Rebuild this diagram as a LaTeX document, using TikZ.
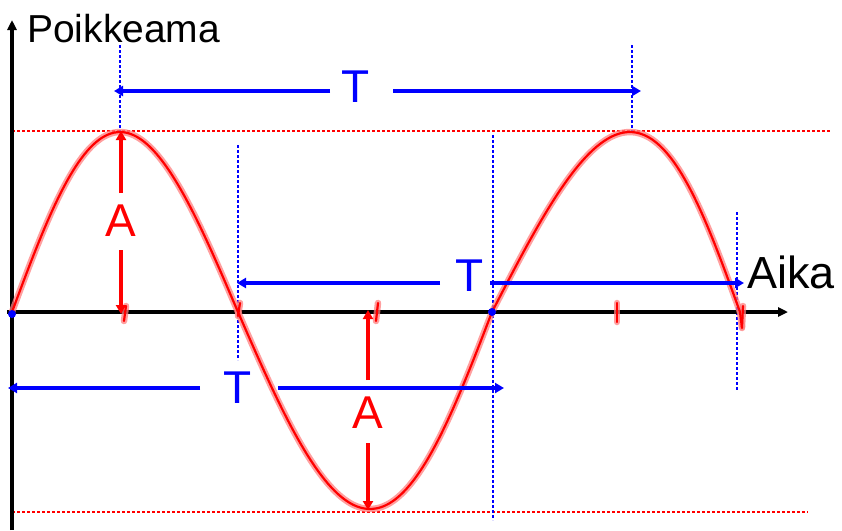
\documentclass[tikz,border=0pt]{standalone}
\usepackage{fontspec}
\setmainfont{Liberation Sans}
\usetikzlibrary{arrows.meta}
\definecolor{tblue}{RGB}{0,0,255}
\definecolor{tred}{RGB}{255,0,0}
\begin{document}
\begin{tikzpicture}[x=1pt,y=-1pt,
  axisline/.style={line width=3.5pt,-{Triangle[length=10pt,width=9pt]}},
  tarrow/.style={tblue,line width=3.5pt,-{Triangle[length=9pt,width=10pt]}},
  aarrow/.style={tred,line width=3.5pt,-{Triangle[length=9pt,width=10pt]}},
  glow/.style={tred!50,line width=6.5pt,opacity=0.75,line cap=round,line join=round},
  core/.style={tred,line width=2.2pt,line cap=round,line join=round},
  reddash/.style={tred,line width=1.1pt,dash pattern=on 3pt off 2pt},
  bluedash/.style={tblue,line width=1.2pt,dash pattern=on 3pt off 2pt},
  lbl/.style={inner sep=0pt,font=\fontsize{46}{46}\selectfont},
  axlbl/.style={inner sep=0pt,anchor=base west},
  dot/.style={circle,fill=tblue,inner sep=0pt,minimum size=8pt}
]
\useasboundingbox[fill=white] (0,0) rectangle (842,530);

% reference lines
\coordinate (rt1) at (12,131); \coordinate (rt2) at (830,131);
\coordinate (rb1) at (12,512); \coordinate (rb2) at (808,512);
\draw[reddash] (rt1) -- (rt2);
\draw[reddash] (rb1) -- (rb2);

% blue dashed verticals
\foreach \n/\xx/\ya/\yb in {va/120/45/133, vb/238/145/360, vc/493/135/520, vd/632/45/133, ve/737/212/390}{
  \coordinate (\n top) at (\xx,\ya); \coordinate (\n bot) at (\xx,\yb);
  \draw[bluedash] (\n top) -- (\n bot);
}

% axes
\coordinate (yo) at (12,530); \coordinate (yt) at (12,20);
\coordinate (xo) at (7,312); \coordinate (xt) at (788,312);
\draw[axisline] (yo) -- (yt);
\draw[axisline] (xo) -- (xt);

% curve (glow + core)
\foreach \st in {glow,core}{
  \draw[\st] plot[domain=0:1,samples=60,smooth] ({12+226*(\x-0.022*sin(180*\x))},{312-180*sin(180*\x)});
  \draw[\st] plot[domain=0:1,samples=60,smooth] ({238+254*(\x+0.02*sin(180*\x))},{312+197*sin(180*\x)});
  \draw[\st] plot[domain=0:1,samples=60,smooth] ({492+248*(\x+0.056*sin(180*\x))},{312-180*sin(180*\x)});
  \draw[\st] (740,312) -- (742,328);
  % ticks
  \draw[\st] (126,306) -- (124,321);
  \draw[\st] (378,303) -- (376,321);
  \draw[\st] (617,303) -- (617,322);
  \draw[\st] (743,306) -- (742,327);
  \draw[\st] (240,303) -- (238,316);
}

% blue dots
\node[dot] (d1) at (12,314) {};
\node[dot] (d2) at (492,312) {};

% labels
\node[axlbl,font=\fontsize{39}{39}\selectfont] (ylab) at (27,42) {Poikkeama};
\node[axlbl,font=\fontsize{45}{45}\selectfont] (xlab) at (747,288) {Aika};

% top T
\node[lbl,anchor=base,tblue] (T1) at (356,102) {T};
\coordinate (t1l) at (330,91); \coordinate (t1le) at (114,91);
\coordinate (t1r) at (393,91); \coordinate (t1re) at (641,91);
\draw[tarrow] (t1l) -- (t1le);
\draw[tarrow] (t1r) -- (t1re);

% middle T
\node[lbl,anchor=base,tblue] (T2) at (470,291) {T};
\coordinate (t2l) at (440,283); \coordinate (t2le) at (237,283);
\coordinate (t2r) at (490,283); \coordinate (t2re) at (744,283);
\draw[tarrow] (t2l) -- (t2le);
\draw[tarrow] (t2r) -- (t2re);

% bottom T
\node[lbl,anchor=base,tblue] (T3) at (238,403) {T};
\coordinate (t3l) at (200,388); \coordinate (t3le) at (8,388);
\coordinate (t3r) at (278,388); \coordinate (t3re) at (504,388);
\draw[tarrow] (t3l) -- (t3le);
\draw[tarrow] (t3r) -- (t3re);

% left A
\node[lbl,anchor=base,tred] (A1) at (121,236) {A};
\coordinate (a1u) at (121,193); \coordinate (a1ue) at (121,131);
\coordinate (a1d) at (121,250); \coordinate (a1de) at (121,314);
\draw[aarrow] (a1u) -- (a1ue);
\draw[aarrow] (a1d) -- (a1de);

% right A
\node[lbl,anchor=base,tred] (A2) at (368,428) {A};
\coordinate (a2u) at (368,380); \coordinate (a2ue) at (368,310);
\coordinate (a2d) at (368,443); \coordinate (a2de) at (368,510);
\draw[aarrow] (a2u) -- (a2ue);
\draw[aarrow] (a2d) -- (a2de);
\end{tikzpicture}
\end{document}
